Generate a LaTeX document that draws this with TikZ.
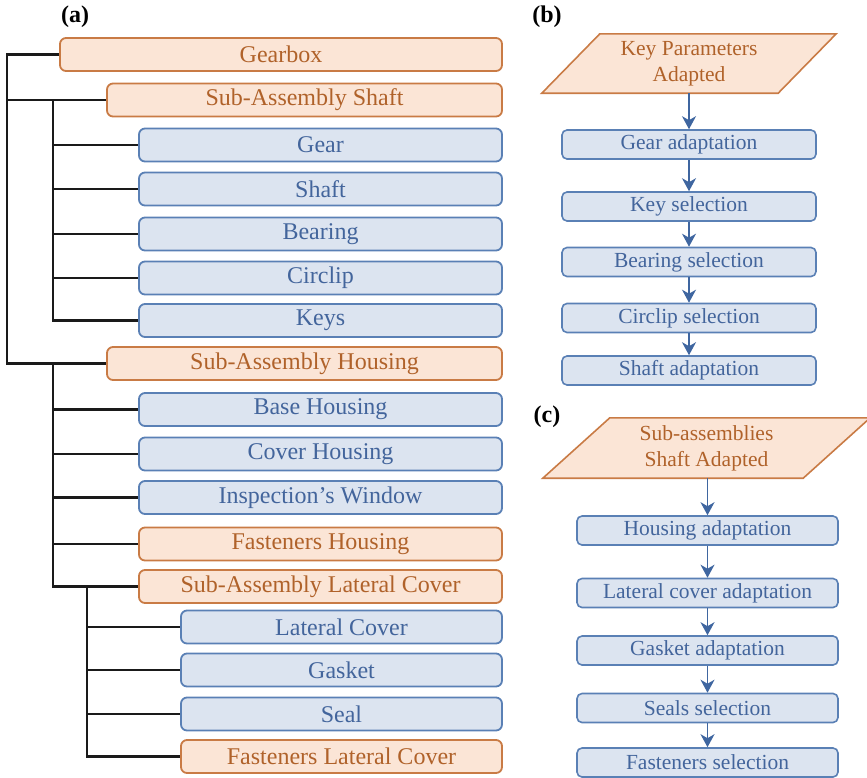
\documentclass[tikz,border=0pt]{standalone}
\usepackage{fontspec}
\setmainfont{Liberation Serif}
\usetikzlibrary{arrows.meta,backgrounds}

\definecolor{orfill}{HTML}{FBE5D6}
\definecolor{ordraw}{HTML}{C97B45}
\definecolor{ortext}{HTML}{B0622A}
\definecolor{blfill}{HTML}{DCE4F0}
\definecolor{bldraw}{HTML}{5A80B5}
\definecolor{bltext}{HTML}{43659C}
\definecolor{arrowblue}{HTML}{3F66A0}
\definecolor{treeline}{HTML}{1A1A1A}

\tikzset{
  part/.style={rounded corners=6pt, line width=1.8pt, minimum height=33pt,
    inner sep=0pt, font=\fontsize{24}{28}\selectfont},
  assy/.style={part, draw=ordraw, fill=orfill, text=ortext},
  comp/.style={part, draw=bldraw, fill=blfill, text=bltext},
  stepbox/.style={rounded corners=5pt, line width=1.6pt, draw=bldraw, fill=blfill,
    text=bltext, minimum height=29pt, inner sep=0pt, font=\fontsize{21.5}{26}\selectfont},
  inputbox/.style={inner sep=0pt, text=ortext, align=center,
    font=\fontsize{21.5}{26}\selectfont},
  slanted/.style={line width=1.6pt, draw=ordraw, fill=orfill, line join=miter},
  tree/.style={line width=2.3pt, draw=treeline},
  flow/.style={line width=1.6pt, draw=arrowblue,
    -{Stealth[length=13pt,width=14pt,inset=4pt]}},
  panel/.style={font=\fontsize{24}{28}\selectfont\bfseries}
}

\begin{document}
\begin{tikzpicture}[x=1pt,y=-1pt]
\useasboundingbox (0,0) rectangle (867,777);

% ---------------- (a) product structure ----------------
\node[panel] (la) at (75,17) {(a)};

\node[assy, minimum width=442pt] (gearbox) at (281,54.5) {Gearbox};
\node[assy, minimum width=395pt] (sas) at (304.5,100) {Sub-Assembly Shaft};
\node[comp, minimum width=363pt] (gear) at (320.5,145) {Gear};
\node[comp, minimum width=363pt] (shaft) at (320.5,189) {Shaft};
\node[comp, minimum width=363pt] (bearing) at (320.5,234) {Bearing};
\node[comp, minimum width=363pt] (circlip) at (320.5,278) {Circlip};
\node[comp, minimum width=363pt] (keys) at (320.5,320.5) {Keys};
\node[assy, minimum width=395pt] (sah) at (304.5,363.5) {Sub-Assembly Housing};
\node[comp, minimum width=363pt] (base) at (320.5,409.5) {Base Housing};
\node[comp, minimum width=363pt] (coverh) at (320.5,454) {Cover Housing};
\node[comp, minimum width=363pt] (insp) at (320.5,497.5) {Inspection’s Window};
\node[assy, minimum width=363pt] (fasth) at (320.5,544) {Fasteners Housing};
\node[assy, minimum width=363pt] (salc) at (320.5,586.5) {Sub-Assembly Lateral Cover};
\node[comp, minimum width=321pt] (latc) at (341.5,627) {Lateral Cover};
\node[comp, minimum width=321pt] (gasket) at (341.5,670) {Gasket};
\node[comp, minimum width=321pt] (seal) at (341.5,714) {Seal};
\node[assy, minimum width=321pt] (fastlc) at (341.5,756.5) {Fasteners Lateral Cover};

% tree spines
\coordinate (r) at (7,0);
\coordinate (s) at (53,0);
\coordinate (l) at (87,0);

\draw[tree] (gearbox.west) -- (gearbox.west -| r) |- (sah.west);
\draw[tree] (sas.west -| r) -- (sas.west);

\draw[tree] (sas.west -| s) |- (keys.west);
\foreach \n in {gear,shaft,bearing,circlip}
  \draw[tree] (\n.west -| s) -- (\n.west);

\draw[tree] (sah.west -| s) |- (salc.west);
\foreach \n in {base,coverh,insp,fasth}
  \draw[tree] (\n.west -| s) -- (\n.west);

\draw[tree] (salc.west -| l) |- (fastlc.west);
\foreach \n in {latc,gasket,seal}
  \draw[tree] (\n.west -| l) -- (\n.west);

% ---------------- (b) shaft sub-assembly workflow ----------------
\node[panel] (lb) at (547,17) {(b)};

\node[inputbox, minimum width=236pt, minimum height=59pt] (kp) at (689,63.5)
  {Key Parameters\\Adapted};
\begin{scope}[on background layer]
  \draw[slanted] ([xshift=29pt]kp.north west) -- ([xshift=29pt]kp.north east)
    -- ([xshift=-29pt]kp.south east) -- ([xshift=-29pt]kp.south west) -- cycle;
\end{scope}

\node[stepbox, minimum width=254pt] (gad) at (689,144.5) {Gear adaptation};
\node[stepbox, minimum width=254pt] (ksel) at (689,206.5) {Key selection};
\node[stepbox, minimum width=254pt] (bsel) at (689,262) {Bearing selection};
\node[stepbox, minimum width=254pt] (csel) at (689,318) {Circlip selection};
\node[stepbox, minimum width=254pt] (sad) at (689,370.5) {Shaft adaptation};

\draw[flow] (kp.south) -- (gad.north);
\draw[flow] (gad) -- (ksel);
\draw[flow] (ksel) -- (bsel);
\draw[flow] (bsel) -- (csel);
\draw[flow] (csel) -- (sad);

% ---------------- (c) housing and cover workflow ----------------
\node[panel] (lc) at (547,417) {(c)};

\node[inputbox, minimum width=260pt, minimum height=60pt] (sa) at (706.5,448)
  {Sub-assemblies\\Shaft Adapted};
\begin{scope}[on background layer]
  \draw[slanted] ([xshift=33.5pt]sa.north west) -- ([xshift=33.5pt]sa.north east)
    -- ([xshift=-33.5pt]sa.south east) -- ([xshift=-33.5pt]sa.south west) -- cycle;
\end{scope}

\node[stepbox, minimum width=261pt] (had) at (707.5,530.5) {Housing adaptation};
\node[stepbox, minimum width=261pt] (lcad) at (707.5,593) {Lateral cover adaptation};
\node[stepbox, minimum width=261pt] (gkad) at (707.5,650.5) {Gasket adaptation};
\node[stepbox, minimum width=261pt] (ssel) at (707.5,708) {Seals selection};
\node[stepbox, minimum width=261pt] (fsel) at (707.5,762.5) {Fasteners selection};

\draw[flow] (sa.south -| had.north) -- (had.north);
\draw[flow] (had) -- (lcad);
\draw[flow] (lcad) -- (gkad);
\draw[flow] (gkad) -- (ssel);
\draw[flow] (ssel) -- (fsel);
\end{tikzpicture}
\end{document}
